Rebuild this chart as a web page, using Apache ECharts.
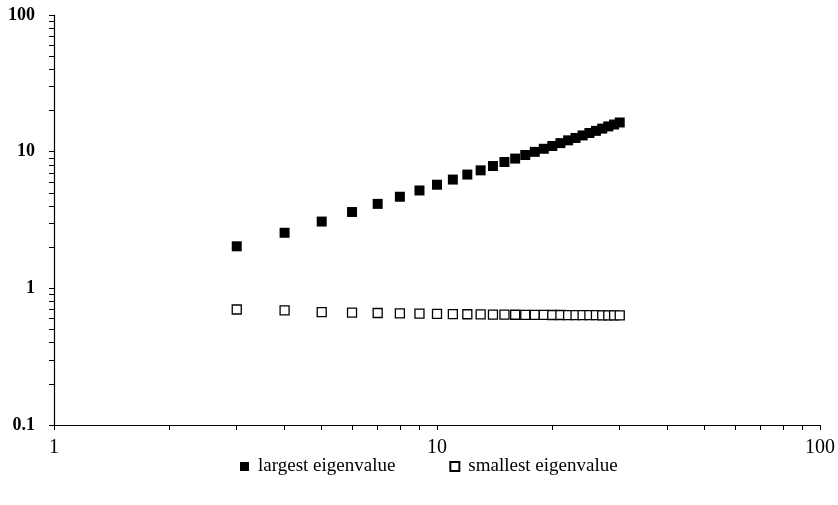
<!DOCTYPE html>
<html><head><meta charset="utf-8">
<script src="https://cdn.jsdelivr.net/npm/echarts@6/dist/echarts.min.js"></script>
<style>html,body{margin:0;padding:0;background:#fff}#c{width:838px;height:505px}</style>
</head><body><div id="c"></div>
<script>
const sizes = [3,4,5,6,7,8,9,10,11,12,13,14,15,16,17,18,19,20,21,22,23,24,25,26,27,28,29,30];
const largest = [2.03,2.55,3.08,3.62,4.15,4.68,5.2,5.73,6.25,6.8,7.3,7.85,8.4,8.9,9.45,9.97,10.5,11.0,11.55,12.1,12.6,13.15,13.7,14.2,14.75,15.3,15.8,16.35];
const smallest = [0.70,0.69,0.67,0.665,0.66,0.655,0.652,0.65,0.648,0.646,0.645,0.643,0.642,0.641,0.64,0.64,0.639,0.638,0.638,0.637,0.637,0.636,0.636,0.636,0.635,0.635,0.635,0.635];
const xTicks = [1,2,3,4,5,6,7,8,9,10,20,30,40,50,60,70,80,90,100];
const xLabels = [1,10,100];
const yTicks = [0.1,0.2,0.3,0.4,0.5,0.6,0.7,0.8,0.9,1,2,3,4,5,6,7,8,9,10,20,30,40,50,60,70,80,90,100];
const yLabels = [0.1,1,10,100];
const names = ['largest eigenvalue','smallest eigenvalue'];

const font = '"Liberation Serif","DejaVu Serif",serif';
const chart = echarts.init(document.getElementById('c'));
chart.setOption({
  animation:false,
  grid:{left:54,right:18,top:15,bottom:80},
  legend:{bottom:24,left:235,itemGap:54,itemWidth:9,itemHeight:9,
    textStyle:{fontFamily:font,fontSize:19,color:'#000',padding:[0,0,0,4]},
    data:[{name:names[0],icon:'rect'},{name:names[1],icon:'rect'}]},
  xAxis:{type:'log',logBase:10,min:1,max:100,
    axisLine:{show:true,lineStyle:{color:'#000',width:1.2}},
    axisTick:{show:true,length:5,customValues:xTicks,lineStyle:{color:'#000'}},
    axisLabel:{customValues:xLabels,fontFamily:font,fontSize:20,color:'#000',margin:13},
    splitLine:{show:false}},
  yAxis:{type:'log',logBase:10,min:0.1,max:100,
    axisLine:{show:true,lineStyle:{color:'#000',width:1.2}},
    axisTick:{show:true,length:5,customValues:yTicks,lineStyle:{color:'#000'}},
    axisLabel:{customValues:yLabels,fontFamily:font,fontSize:18,color:'#000',margin:19,fontWeight:'bold',
      formatter:v=>String(+v.toPrecision(3))},
    splitLine:{show:false}},
  series:[
    {name:names[0],type:'scatter',symbol:'rect',symbolSize:10,
     itemStyle:{color:'#000',opacity:1},
     data:sizes.map((s,i)=>[s,largest[i]])},
    {name:names[1],type:'scatter',symbol:'rect',symbolSize:9,
     itemStyle:{color:'#fff',borderColor:'#000',borderWidth:1.3,opacity:1},
     data:sizes.map((s,i)=>[s,smallest[i]])}
  ]
});
</script></body></html>
